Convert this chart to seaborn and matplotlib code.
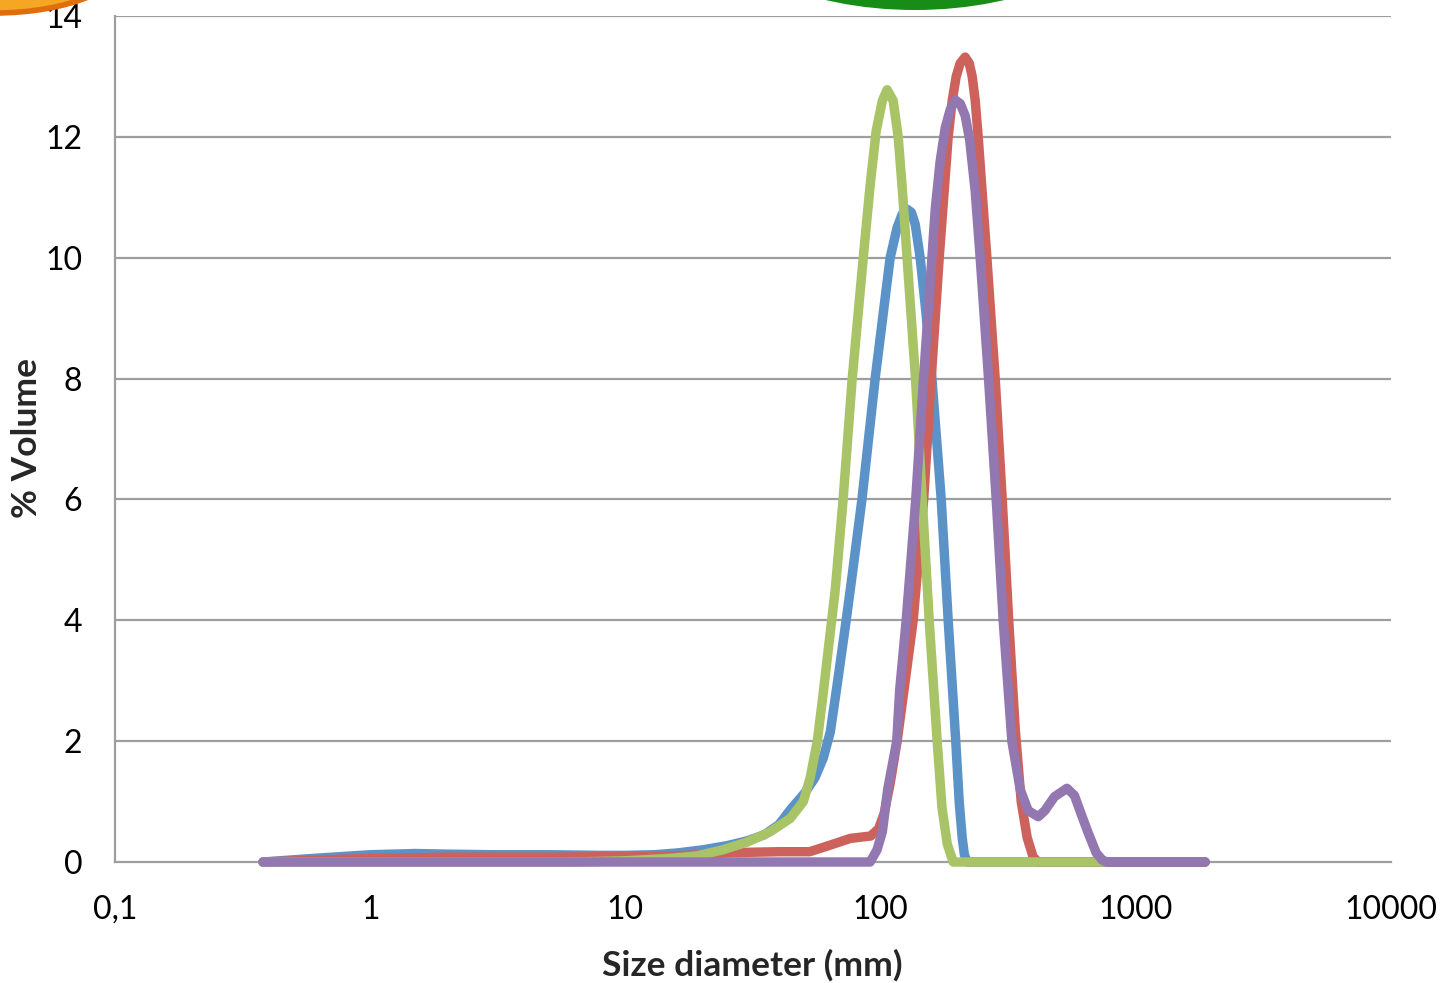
import numpy as np
import pandas as pd
import matplotlib
matplotlib.use("Agg")
import matplotlib.pyplot as plt
from matplotlib.patches import Ellipse
import seaborn as sns

# particle size distributions (size in mm, % volume)
blue_size = [0.38, 0.6, 1.0, 1.5, 2.0, 3.0, 5.0, 8.0, 10.0, 13.0, 16.0, 20.0, 25.0, 30.0, 35.0,
             40.0, 44.2, 50.6, 55.4, 59.6, 63.5, 67.4, 73.3, 77.4, 84.5, 95.2, 109.0, 116.1,
             121.5, 127.1, 132.0, 136.7, 142.9, 150.5, 158.9, 172.8, 184.0, 197.0, 203.2, 208.8,
             213.0, 218.4, 400.0, 1870.0]
blue_vol = [0.0, 0.06, 0.12, 0.14, 0.13, 0.12, 0.12, 0.11, 0.11, 0.12, 0.15, 0.2, 0.27, 0.35, 0.45,
            0.62, 0.86, 1.15, 1.4, 1.72, 2.15, 2.9, 4.0, 4.75, 6.0, 8.0, 10.0, 10.5,
            10.72, 10.8, 10.75, 10.55, 10.0, 9.1, 8.0, 6.0, 4.0, 2.0, 1.0, 0.4,
            0.12, 0.0, 0.0, 0.0]

red_size = [0.38, 0.6, 1.0, 2.0, 5.0, 10.0, 15.0, 20.0, 25.0, 30.0, 40.0, 52.7, 63.5, 76.0, 91.4,
            98.2, 103.2, 109.0, 116.1, 124.9, 134.2, 147.5, 157.9, 169.7, 184.0, 190.8, 197.8,
            205.1, 214.5, 222.4, 228.5, 234.8, 241.2, 260.9, 281.2, 299.6, 317.7, 336.9, 355.6,
            375.4, 396.3, 414.7, 1870.0]
red_vol = [0.0, 0.03, 0.06, 0.08, 0.08, 0.09, 0.1, 0.12, 0.15, 0.16, 0.17, 0.17, 0.28, 0.39, 0.43,
           0.55, 0.8, 1.3, 2.0, 3.0, 4.0, 6.0, 8.0, 10.0, 12.0, 12.6, 13.0,
           13.22, 13.32, 13.22, 13.0, 12.6, 12.0, 10.0, 8.0, 6.0, 4.0, 2.2, 1.0,
           0.4, 0.08, 0.0, 0.0]

green_size = [0.38, 6.0, 8.0, 10.0, 15.0, 19.0, 24.0, 30.0, 36.9, 44.2, 49.8, 53.0, 56.5, 59.6,
              63.5, 66.4, 71.3, 77.4, 85.5, 91.0, 96.1, 101.6, 106.1, 112.0, 117.2, 121.8, 127.0,
              137.0, 145.6, 155.0, 166.6, 174.0, 182.4, 192.5, 400.0, 765.0]
green_vol = [0.0, 0.0, 0.01, 0.02, 0.06, 0.1, 0.2, 0.33, 0.5, 0.72, 1.0, 1.4, 2.0, 2.8,
             3.8, 4.5, 6.0, 8.0, 10.0, 11.2, 12.1, 12.6, 12.78, 12.6, 12.0, 11.1, 10.0,
             8.0, 6.0, 4.0, 2.0, 0.9, 0.3, 0.0, 0.0, 0.0]

purple_size = [0.38, 10.0, 91.0, 96.8, 101.6, 106.6, 115.7, 118.8, 126.0, 137.3, 147.3, 158.9,
               163.7, 171.2, 179.2, 187.4, 196.1, 205.1, 214.5, 223.4, 234.8, 245.6, 264.8,
               283.8, 302.2, 326.9, 352.4, 378.8, 414.7, 440.0, 480.0, 537.2, 575.0, 610.0,
               651.0, 700.0, 740.0, 770.4, 1870.0]
purple_vol = [0.0, 0.0, 0.0, 0.2, 0.5, 1.2, 2.0, 2.85, 4.0, 6.0, 8.0, 10.0,
              10.8, 11.6, 12.15, 12.45, 12.61, 12.55, 12.35, 11.95, 11.1, 10.0, 8.0,
              6.0, 4.0, 2.0, 1.2, 0.85, 0.75, 0.85, 1.08, 1.22, 1.1, 0.8,
              0.48, 0.15, 0.03, 0.0, 0.0]

samples = ["Sample 1", "Sample 2", "Sample 3", "Sample 4"]
colors = ["#5B93C9", "#CD625D", "#A9C466", "#9277B0"]

x_ticks = [0.1, 1, 10, 100, 1000, 10000]
x_ticklabels = ["0,1", "1", "10", "100", "1000", "10000"]
y_ticks = [0, 2, 4, 6, 8, 10, 12, 14]

frames = []
for name, s, v in zip(samples, [blue_size, red_size, green_size, purple_size],
                      [blue_vol, red_vol, green_vol, purple_vol]):
    frames.append(pd.DataFrame({"size": s, "volume": v, "sample": name}))
df = pd.concat(frames, ignore_index=True)

sns.set_theme(style="white")
plt.rcParams["font.family"] = ["Lato", "DejaVu Sans"]

fig = plt.figure(figsize=(14.48, 9.83), dpi=100)
ax = fig.add_axes([115 / 1448, 1 - 862 / 983, (1391 - 115) / 1448, (862 - 16) / 983])

grid_col = "#9E9E9E"
for yv in y_ticks[1:]:
    ax.axhline(yv, color=grid_col, lw=1.6, zorder=0)
n_grid = len(ax.lines)

sns.lineplot(data=df, x="size", y="volume", hue="sample", palette=colors,
             hue_order=samples, legend=False, ax=ax, estimator=None)
for line in ax.lines[n_grid:]:
    line.set_linewidth(6.8)
    line.set_solid_capstyle("round")
    line.set_solid_joinstyle("round")
    line.set_clip_on(False)

ax.set_xscale("log")
ax.set_xlim(0.1, 10000)
ax.set_ylim(0, 14)
ax.set_xticks(x_ticks)
ax.set_xticklabels(x_ticklabels)
ax.xaxis.set_minor_locator(matplotlib.ticker.NullLocator())
ax.set_yticks(y_ticks)
ax.set_yticklabels([str(t) for t in y_ticks])
ax.tick_params(axis="both", which="major", direction="out", length=7.5, width=1.4,
               color=grid_col, labelsize=23, labelcolor="black")
ax.tick_params(axis="y", pad=16)
ax.tick_params(axis="x", pad=16)
ax.set_xlabel("")
ax.set_ylabel("")

for side in ["top", "right"]:
    ax.spines[side].set_visible(False)
for side in ["left", "bottom"]:
    ax.spines[side].set_color(grid_col)
    ax.spines[side].set_linewidth(1.6)
    ax.spines[side].set_zorder(0.5)

fig.text(752 / 1448, 1 - 965 / 983, "Size diameter (mm)", ha="center", va="center",
         fontsize=25.5, fontweight="bold")
fig.text(27 / 1448, 1 - 438 / 983, "% Volume", ha="center", va="center",
         rotation=90, fontsize=25.5, fontweight="bold")

# pieces of other graphics cut off at the top edge of the picture
fig.add_artist(Ellipse((-5 / 1448, 1 + 45 / 983), 270 / 1448, 116 / 983,
                       transform=fig.transFigure, facecolor="#F5A623",
                       edgecolor="#E06E0F", lw=4, clip_on=False))
fig.add_artist(Ellipse((915 / 1448, 1 + 90 / 983), 410 / 1448, 200 / 983,
                       transform=fig.transFigure, facecolor="#178C17",
                       edgecolor="none", clip_on=False))

fig.savefig("out.png", dpi=100)
